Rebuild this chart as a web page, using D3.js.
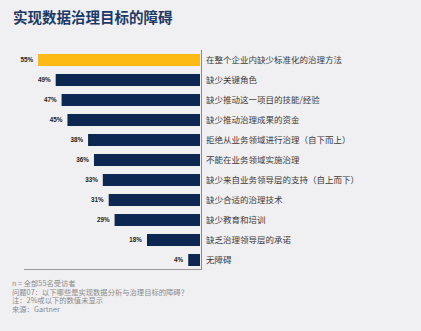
<!DOCTYPE html>
<html><head><meta charset="utf-8">
<script src="https://cdn.jsdelivr.net/npm/d3@7"></script>
<style>
html,body{margin:0;padding:0;background:#f0f0f2;}
svg{display:block;}
</style></head>
<body>
<script>
const categories = ["在整个企业内缺少标准化的治理方法","缺少关键角色","缺少推动这一项目的技能/经验","缺少推动治理成果的资金","拒绝从业务领域进行治理（自下而上）","不能在业务领域实施治理","缺少来自业务领导层的支持（自上而下）","缺少合适的治理技术","缺少教育和培训","缺乏治理领导层的承诺","无障碍"];
const values = [55,49,47,45,38,36,33,31,29,18,4];
const title = "实现数据治理目标的障碍";
const notes = ["n = 全部55名受访者","问题07：以下哪些是实现数据分析与治理目标的障碍？","注：2%或以下的数值未显示","来源：Gartner"];

const W=421,H=331;
const svg=d3.select("body").append("svg").attr("width",W).attr("height",H);
svg.append("rect").attr("width",W).attr("height",H).attr("fill","#f0f0f2");

svg.append("text").attr("x",13).attr("y",23).text(title)
  .attr("font-family","'Noto Sans CJK SC'").attr("font-weight","bold")
  .attr("font-size",14.5).attr("fill","#1b3a66");

const y=d3.scaleBand().domain(categories).range([50,270]).paddingInner(0.4).paddingOuter(0.2);
const x=d3.scaleLinear().domain([0,55]).range([200,38]);

svg.selectAll("rect.bar").data(values).join("rect").attr("class","bar")
  .attr("x",d=>x(d)).attr("width",d=>x(0)-x(d))
  .attr("y",(d,i)=>y(categories[i])).attr("height",y.bandwidth())
  .attr("fill",(d,i)=>i===0?"#fdb913":"#0c2852");

svg.selectAll("text.val").data(values).join("text").attr("class","val")
  .attr("x",d=>x(d)-5).attr("y",(d,i)=>y(categories[i])+y.bandwidth()/2)
  .attr("dy","0.35em").attr("text-anchor","end")
  .attr("font-family","Arial, 'Liberation Sans'").attr("font-weight","bold")
  .attr("font-size",6.3).attr("fill","#222").text(d=>d+"%");

svg.selectAll("text.cat").data(categories).join("text").attr("class","cat")
  .attr("x",206).attr("y",d=>y(d)+y.bandwidth()/2).attr("dy","0.35em")
  .attr("font-family","'Noto Sans CJK SC'").attr("font-size",8.5)
  .attr("fill","#3a3a3a").text(d=>d);

svg.append("line").attr("x1",201.5).attr("x2",201.5).attr("y1",50).attr("y2",270)
  .attr("stroke","#8a8a8a").attr("stroke-width",1);
svg.append("line").attr("x1",24).attr("x2",201.5).attr("y1",269.5).attr("y2",269.5)
  .attr("stroke","#9a9a9a").attr("stroke-width",1);

svg.selectAll("text.note").data(notes).join("text").attr("class","note")
  .attr("x",12).attr("y",(d,i)=>286+i*8.5)
  .attr("font-family","'Noto Sans CJK SC'").attr("font-size",7.3)
  .attr("fill","#8a8a8a").text(d=>d);
</script>
</body></html>
